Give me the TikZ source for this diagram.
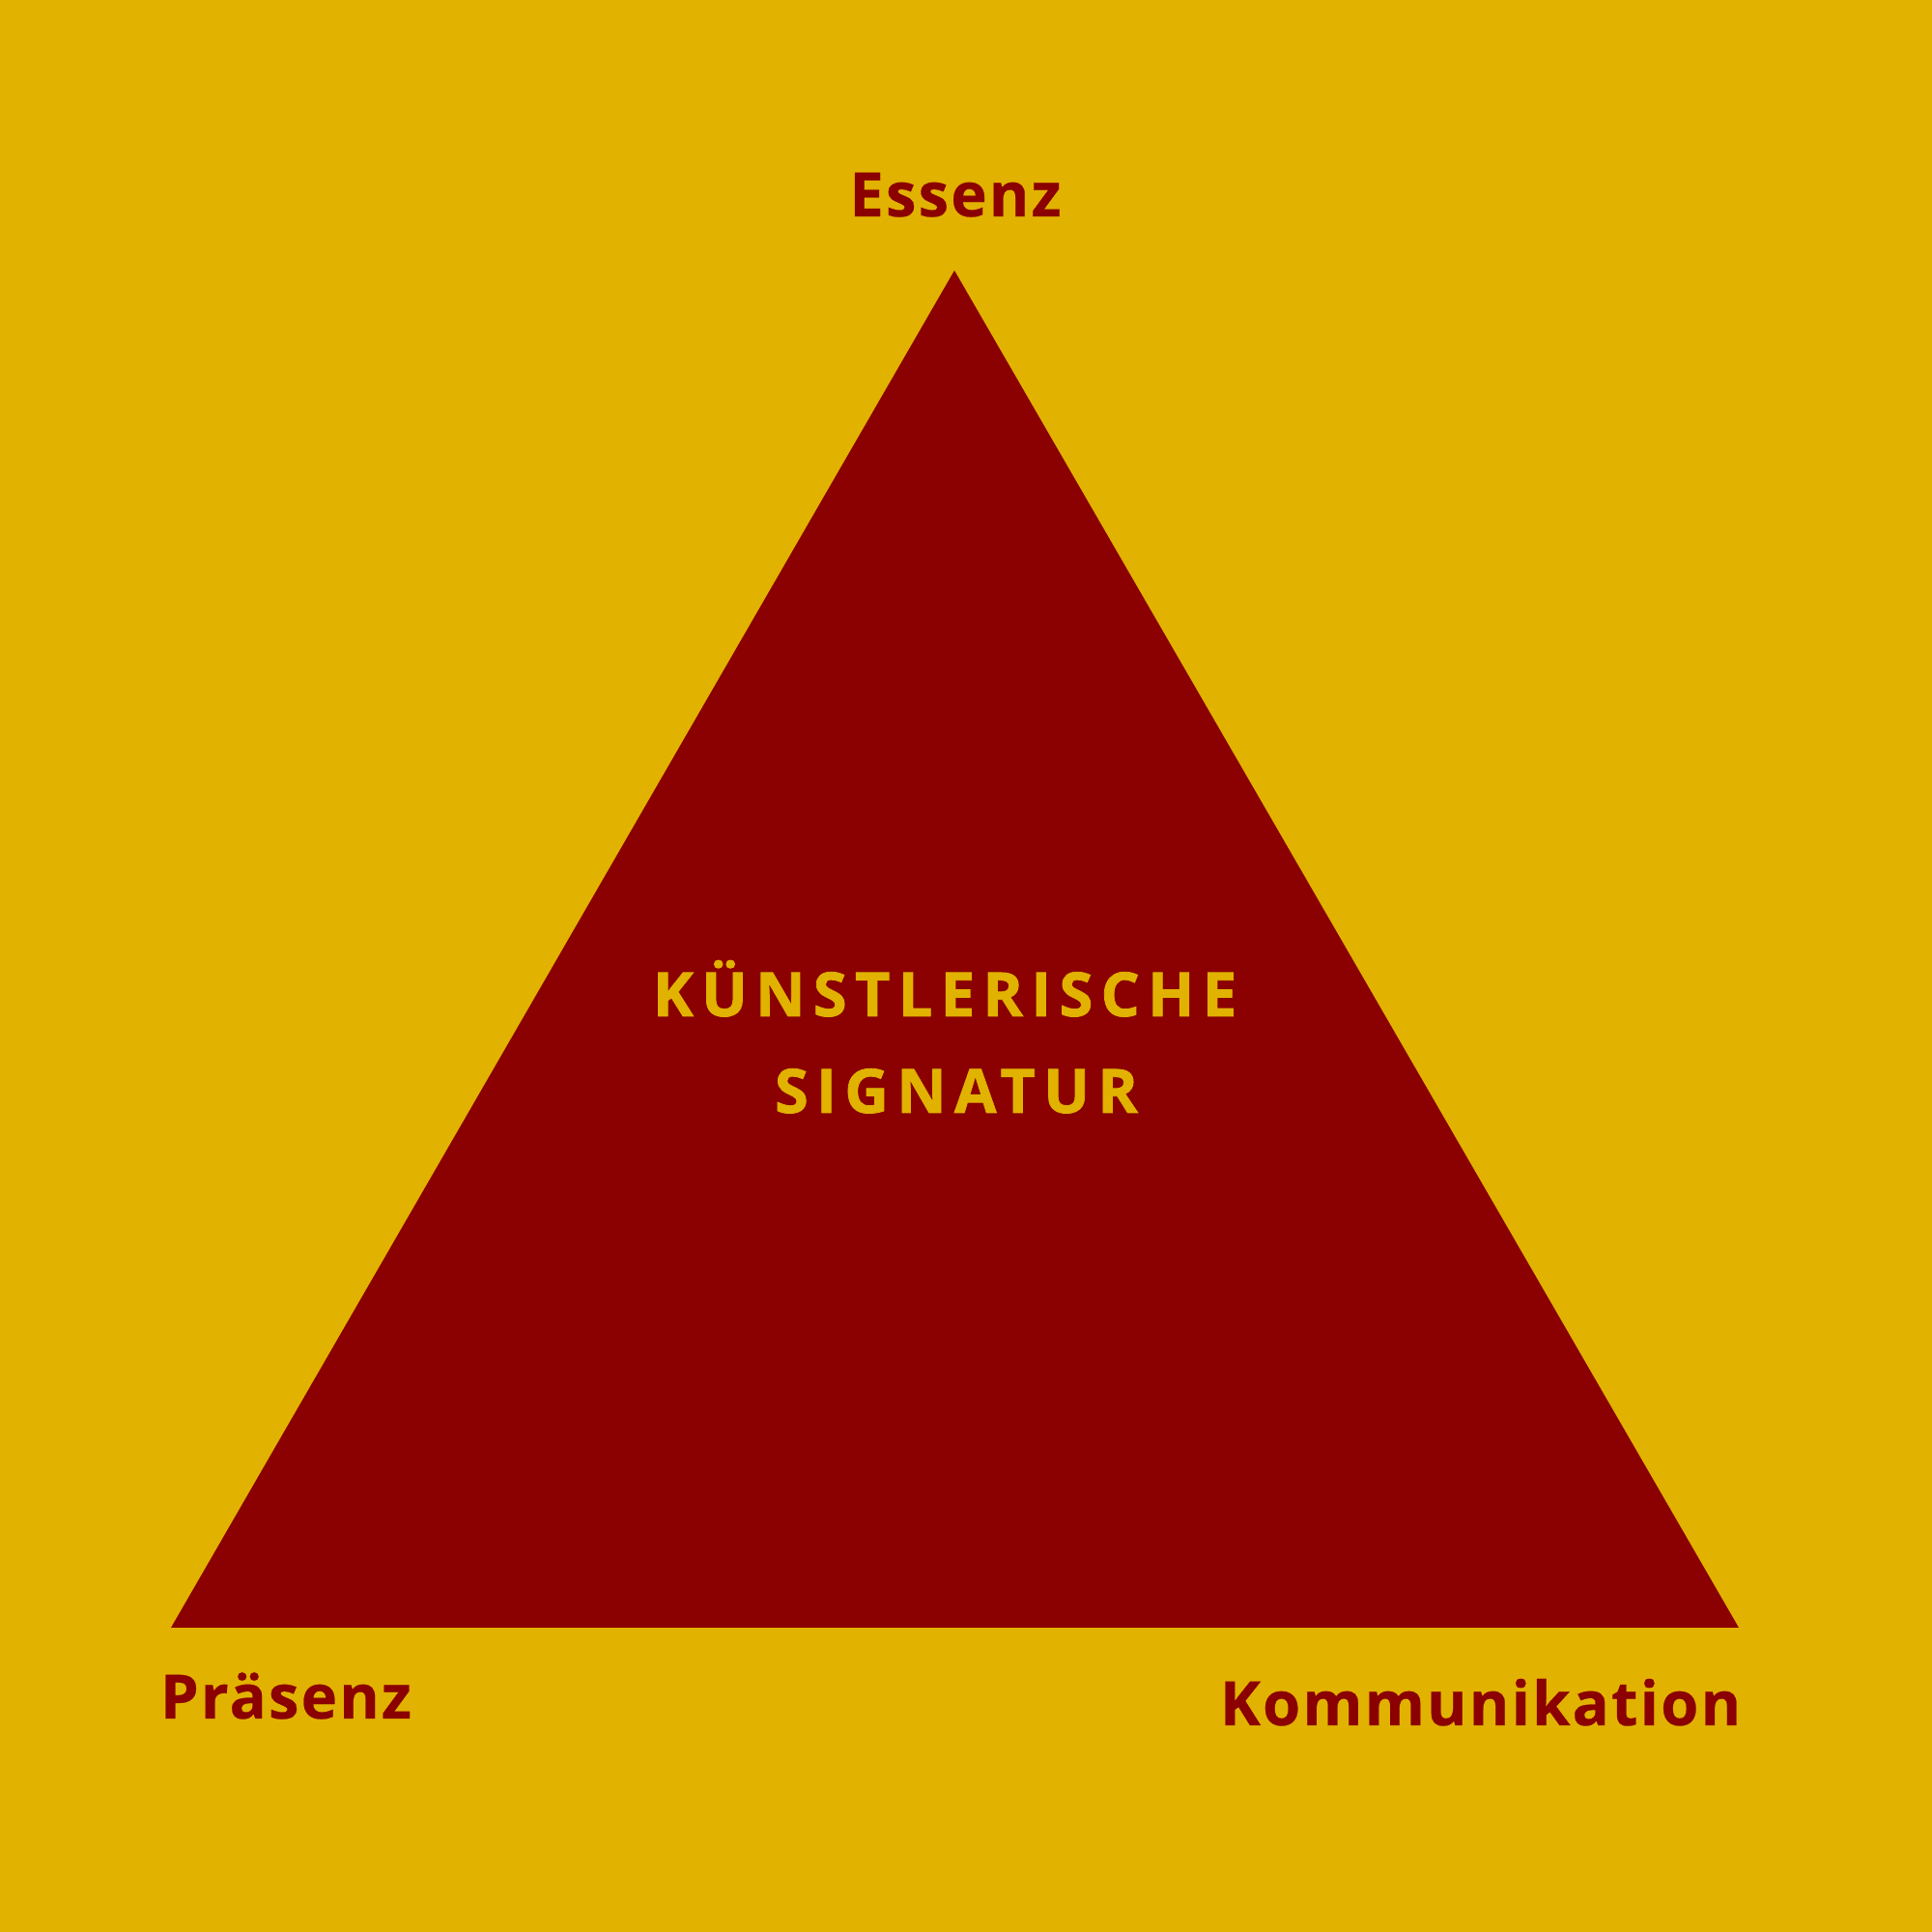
\documentclass[tikz,border=0pt]{standalone}
\usepackage{fontspec}
\setmainfont{Open Sans}
\newfontfamily\labelfont[LetterSpace=3.5,FakeBold=0.4]{Open Sans}
\newfontfamily\signfont[LetterSpace=13,FakeBold=1.2]{Open Sans}
\definecolor{gold}{RGB}{225,178,0}
\definecolor{wine}{RGB}{139,0,0}

\begin{document}
\begin{tikzpicture}
			\fill[gold] (0,0) rectangle (20,20);
			\useasboundingbox (0,0) rectangle (20,20);
			\coordinate (apex) at (9.88,17.20);
			\coordinate (bl) at (1.77,3.15);
			\coordinate (br) at (18.00,3.15);
			\fill[wine] (apex) -- (bl) -- (br) -- cycle;
			\node[anchor=base,color=wine,font=\fontsize{18}{22}\labelfont\bfseries,inner sep=0pt] (essenz) at (9.89,17.76) {Essenz};
			\node[anchor=base,color=wine,font=\fontsize{18}{22}\labelfont\bfseries,inner sep=0pt] (praesenz) at (2.96,2.21) {Präsenz};
			\node[anchor=base east,color=wine,font=\fontsize{18}{22}\labelfont\bfseries,inner sep=0pt] (komm) at (18.03,2.14) {Kommunikation};
			\node[anchor=base,color=gold,font=\fontsize{18}{22}\signfont\bfseries,inner sep=0pt] (sig1) at (9.78,9.48) {KÜNSTLERISCHE};
			\node[anchor=base,color=gold,font=\fontsize{18}{22}\signfont\bfseries,inner sep=0pt] (sig2) at (9.90,8.48) {SIGNATUR};
		\end{tikzpicture}
\end{document}
